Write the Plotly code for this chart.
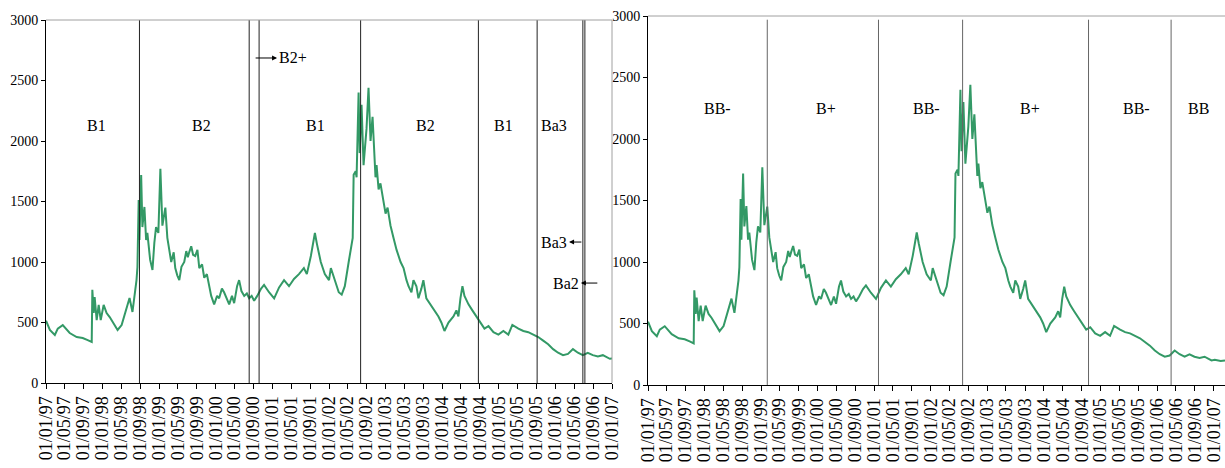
import plotly.graph_objects as go

# EMBI spread (bp), read point by point
dates = [
    "1997-01-01", "1997-01-26", "1997-02-27", "1997-03-18", "1997-04-19", "1997-05-15",
    "1997-06-03", "1997-07-18", "1997-08-26", "1997-09-27", "1997-10-23", "1997-10-27",
    "1997-11-05", "1997-11-11", "1997-11-24", "1997-12-07", "1997-12-20", "1998-01-08",
    "1998-01-27", "1998-02-16", "1998-03-20", "1998-04-08", "1998-05-04", "1998-06-04",
    "1998-06-24", "1998-07-13", "1998-08-02", "1998-08-08", "1998-08-14", "1998-08-22",
    "1998-08-27", "1998-09-07", "1998-09-15", "1998-09-28", "1998-10-09", "1998-10-17",
    "1998-11-04", "1998-11-19", "1998-12-01", "1998-12-12", "1998-12-27", "1999-01-09",
    "1999-01-22", "1999-02-10", "1999-02-23", "1999-03-20", "1999-04-05", "1999-04-15",
    "1999-04-28", "1999-05-11", "1999-05-25", "1999-06-12", "1999-06-25", "1999-07-05",
    "1999-07-14", "1999-07-27", "1999-08-08", "1999-08-22", "1999-09-05", "1999-09-17",
    "1999-10-05", "1999-10-19", "1999-11-05", "1999-11-20", "1999-12-03", "1999-12-22",
    "2000-01-10", "2000-01-23", "2000-02-10", "2000-02-24", "2000-03-10", "2000-03-28",
    "2000-04-15", "2000-04-29", "2000-05-18", "2000-05-31", "2000-06-15", "2000-07-03",
    "2000-07-20", "2000-08-04", "2000-08-20", "2000-09-05", "2000-09-25", "2000-10-20",
    "2000-11-08", "2000-12-10", "2001-01-12", "2001-02-13", "2001-03-17", "2001-04-18",
    "2001-05-20", "2001-06-21", "2001-07-23", "2001-08-11", "2001-09-06", "2001-10-02",
    "2001-10-15", "2001-11-09", "2001-12-05", "2002-01-01", "2002-01-13", "2002-02-08",
    "2002-03-05", "2002-03-24", "2002-04-13", "2002-05-08", "2002-06-03", "2002-06-09",
    "2002-06-22", "2002-06-28", "2002-07-11", "2002-07-18", "2002-07-30", "2002-08-12",
    "2002-08-25", "2002-08-31", "2002-09-13", "2002-09-26", "2002-10-09", "2002-10-28",
    "2002-11-04", "2002-11-17", "2002-11-29", "2002-12-19", "2003-01-01", "2003-01-14",
    "2003-02-02", "2003-02-21", "2003-03-13", "2003-04-08", "2003-04-27", "2003-05-16",
    "2003-05-29", "2003-06-17", "2003-06-30", "2003-07-19", "2003-08-01", "2003-08-20",
    "2003-09-02", "2003-09-21", "2003-10-17", "2003-11-12", "2003-12-08", "2003-12-27",
    "2004-01-16", "2004-02-11", "2004-03-14", "2004-04-02", "2004-04-15", "2004-04-28",
    "2004-05-11", "2004-05-24", "2004-06-19", "2004-07-14", "2004-08-09", "2004-09-04",
    "2004-09-30", "2004-10-26", "2004-11-27", "2004-12-29", "2005-01-30", "2005-03-03",
    "2005-03-29", "2005-05-07", "2005-06-08", "2005-07-10", "2005-08-11", "2005-09-12",
    "2005-10-14", "2005-11-15", "2005-12-17", "2006-01-18", "2006-02-19", "2006-03-23",
    "2006-04-24", "2006-05-26", "2006-06-27", "2006-07-29", "2006-08-30", "2006-10-02",
    "2006-11-03", "2006-12-18", "2007-01-08", "2007-02-15", "2007-03-15",
]
spread = [
    515, 438, 397, 450, 478, 438,
    413, 380, 372, 355, 339, 770,
    578, 711, 520, 645, 520, 645,
    578, 545, 479, 438, 479, 603,
    702, 587, 769, 851, 959, 1512,
    1182, 1719, 1289, 1455, 1182, 1240,
    1017, 934, 1157, 1289, 1240, 1770,
    1300, 1450, 1200, 1000, 1080, 950,
    890, 850, 960, 1000, 1090, 1040,
    1080, 1130, 1060, 1050, 1100, 950,
    980, 870, 900, 790, 720, 650,
    720, 700, 780, 750, 700, 650,
    720, 660, 800, 850, 760, 720,
    740, 700, 720, 680, 720, 780,
    810, 750, 700, 790, 850, 800,
    860, 900, 950, 900, 1050, 1240,
    1150, 1000, 900, 850, 950, 850,
    750, 730, 800, 1000, 1200, 1720,
    1750, 1700, 2400, 1900, 2300, 1800,
    2000, 2100, 2440, 2000, 2200, 1700,
    1800, 1600, 1650, 1500, 1400, 1450,
    1300, 1200, 1100, 1000, 950, 850,
    800, 750, 850, 800, 700, 780,
    850, 700, 650, 600, 550, 500,
    430, 500, 550, 600, 550, 700,
    800, 720, 650, 600, 550, 500,
    450, 470, 420, 400, 430, 400,
    480, 450, 430, 420, 400, 380,
    350, 320, 280, 250, 230, 240,
    280, 250, 230, 250, 230, 220,
    230, 200, 205, 195, 200,
]

# Moody's rating changes and the rating in force between them
moodys_changes = ["1998-08-27", "2000-08-04", "2000-10-07", "2002-07-24",
                  "2004-08-22", "2005-09-05", "2006-06-27", "2006-07-10"]
moodys_labels = ["B1", "B2", "B1", "B2", "B1", "Ba3"]
moodys_label_dates = ["1997-11-24", "1999-09-29", "2001-10-08", "2003-09-15",
                      "2005-01-30", "2005-12-24"]
moodys_label_level = 2124

# S&P rating changes and the rating in force between them
sp_changes = ["1999-02-10", "2001-01-28", "2002-07-25", "2004-10-15", "2006-04-01"]
sp_labels = ["BB-", "B+", "BB-", "B+", "BB-", "BB"]
sp_label_dates = ["1998-03-25", "2000-02-25", "2001-12-05", "2003-10-01",
                  "2005-08-20", "2006-09-25"]
sp_label_level = 2250

GREEN = "#339966"
SERIF = "Liberation Serif, Times New Roman, serif"
W, H = 1225, 468

fig = go.Figure()
for ax in ("x", "x2"):
    fig.add_trace(go.Scatter(
        x=dates, y=spread, mode="lines",
        line=dict(color=GREEN, width=2),
        xaxis=ax, yaxis="y" if ax == "x" else "y2",
        showlegend=False, hoverinfo="skip",
    ))

shapes = []
for d in moodys_changes:
    shapes.append(dict(type="line", xref="x", yref="y", x0=d, x1=d, y0=0, y1=3000,
                       line=dict(color="#222222", width=1)))
for d in sp_changes:
    shapes.append(dict(type="line", xref="x2", yref="y2", x0=d, x1=d, y0=0, y1=2970,
                       line=dict(color="#666666", width=1)))
# light frame along the top and right of the first panel, top of the second
shapes.append(dict(type="line", xref="x domain", yref="y domain", x0=0, x1=1, y0=1, y1=1,
                   line=dict(color="#a0a0a0", width=1)))
shapes.append(dict(type="line", xref="x domain", yref="y domain", x0=1, x1=1, y0=0, y1=1,
                   line=dict(color="#a0a0a0", width=1)))
shapes.append(dict(type="line", xref="x2 domain", yref="y2 domain", x0=0, x1=1, y0=1, y1=1,
                   line=dict(color="#a0a0a0", width=1)))

annotations = []
for lab, d in zip(moodys_labels, moodys_label_dates):
    annotations.append(dict(x=d, y=moodys_label_level, xref="x", yref="y", text=lab,
                            showarrow=False, font=dict(family=SERIF, size=16, color="black")))
for lab, d in zip(sp_labels, sp_label_dates):
    annotations.append(dict(x=d, y=sp_label_level, xref="x2", yref="y2", text=lab,
                            showarrow=False, font=dict(family=SERIF, size=16, color="black")))

# short-lived ratings pointed at with arrows
arrow_notes = [
    # text, tail date, head date, level, text side
    ("B2+", "2000-09-05", "2001-01-31", 2686, "right"),
    ("Ba3", "2006-06-27", "2006-03-30", 1165, "left"),
    ("Ba2", "2006-10-08", "2006-06-14", 826, "left"),
]
for txt, tail, head, lvl, side in arrow_notes:
    annotations.append(dict(x=head, y=lvl, ax=tail, ay=lvl, xref="x", yref="y",
                            axref="x", ayref="y", text="", showarrow=True,
                            arrowhead=2, arrowsize=1, arrowwidth=1, arrowcolor="black"))
    annotations.append(dict(x=head, y=lvl, xref="x", yref="y", text=txt, showarrow=False,
                            xanchor="left" if side == "right" else "right",
                            font=dict(family=SERIF, size=16, color="black")))

axis_common = dict(
    type="date", tickformat="%d/%m/%y", dtick="M4", tick0="1997-01-01",
    tickangle=-90, ticks="outside", ticklen=5, tickcolor="black",
    showline=True, linecolor="black", linewidth=1, showgrid=False, zeroline=False,
    automargin=False, ticklabeloverflow="allow",
    tickfont=dict(family=SERIF, size=18, color="black"),
)
yaxis_common = dict(
    range=[0, 3000], dtick=500, ticks="outside", ticklen=4, tickcolor="black",
    showline=True, linecolor="black", linewidth=1, showgrid=False, zeroline=False,
    automargin=False,
    tickfont=dict(family=SERIF, size=14, color="black"),
)

fig.update_layout(
    width=W, height=H,
    margin=dict(l=0, r=0, t=0, b=0, autoexpand=False),
    paper_bgcolor="white", plot_bgcolor="white",
    xaxis=dict(axis_common, domain=[46 / W, 612 / W], range=["1997-01-01", "2007-01-01"],
               anchor="y"),
    yaxis=dict(yaxis_common, domain=[85 / H, 448 / H], anchor="x"),
    xaxis2=dict(axis_common, domain=[648 / W, 1.0], range=["1997-01-01", "2007-03-15"],
                anchor="y2"),
    yaxis2=dict(yaxis_common, domain=[83 / H, 452 / H], anchor="x2"),
    shapes=shapes,
    annotations=annotations,
    showlegend=False,
)

fig.write_html("out.html")
